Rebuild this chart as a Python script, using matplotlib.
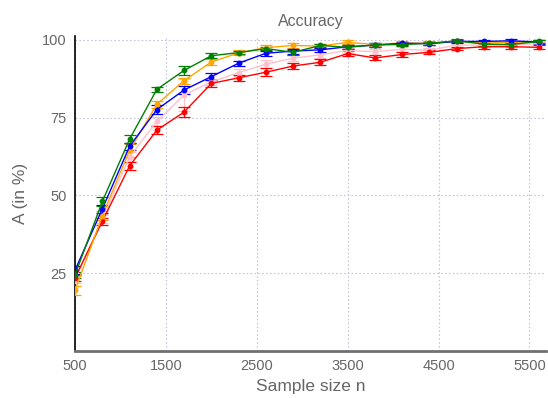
import matplotlib

matplotlib.use('Agg')
import matplotlib.pyplot as plt

plt.rcParams['font.family'] = ['Liberation Sans', 'DejaVu Sans']

# 样本量
sizes = [500, 800, 1100, 1400, 1700, 2000, 2300, 2600, 2900, 3200, 3500,
         3800, 4100, 4400, 4700, 5000, 5300, 5600]

# 各方法的准确率 (%)
acc_pink = [23.0, 42.5, 62.4, 73.8, 82.3, 86.5, 89.5, 92.2, 94.1, 95.2, 96.6,
            96.2, 97.0, 96.6, 98.4, 98.2, 98.3, 98.8]
acc_red = [23.5, 41.7, 59.5, 71.0, 76.8, 86.0, 87.8, 89.6, 91.6, 92.8, 95.6,
           94.2, 95.3, 96.0, 97.2, 97.8, 97.8, 97.6]
acc_orange = [19.5, 43.5, 64.5, 79.3, 86.9, 92.9, 95.8, 97.5, 98.2, 98.0, 99.2,
              98.5, 99.0, 98.9, 99.6, 99.0, 99.2, 99.4]
acc_blue = [26.0, 45.7, 65.8, 77.6, 83.9, 88.2, 92.5, 95.7, 96.4, 96.8, 97.8,
            98.3, 98.9, 98.8, 99.5, 99.5, 99.7, 99.3]
acc_green = [24.5, 48.1, 68.1, 84.1, 90.2, 94.9, 95.9, 97.2, 96.0, 98.2, 97.6,
             98.4, 98.5, 98.9, 99.7, 98.6, 98.5, 99.5]

# 误差
err_pink = [1.2, 1.2, 1.5, 1.5, 5.0, 1.0, 1.2, 1.2, 1.0, 1.0, 0.8,
            1.0, 0.8, 0.8, 0.6, 0.6, 0.6, 0.6]
err_red = [1.0, 1.2, 1.2, 1.2, 1.5, 1.0, 1.0, 1.2, 1.0, 1.0, 0.8,
           0.8, 0.8, 0.6, 0.6, 0.6, 0.6, 0.6]
err_orange = [1.5, 1.5, 2.0, 1.2, 1.0, 1.0, 0.8, 0.8, 0.8, 0.6, 0.6,
              0.6, 0.6, 0.6, 0.5, 0.5, 0.5, 0.5]
err_blue = [1.2, 1.2, 1.2, 1.5, 1.2, 1.0, 0.8, 0.8, 0.8, 0.6, 0.6,
            0.6, 0.5, 0.5, 0.5, 0.5, 0.5, 0.5]
err_green = [1.0, 1.5, 1.2, 0.8, 1.5, 0.8, 0.6, 0.6, 0.8, 0.6, 0.6,
             0.6, 0.5, 0.5, 0.5, 0.5, 0.5, 0.5]

x_ticks = [500, 1500, 2500, 3500, 4500, 5500]
y_ticks = [25, 50, 75, 100]

series = [
    (acc_pink, err_pink, '#ffc0cb'),
    (acc_red, err_red, '#ff0000'),
    (acc_orange, err_orange, '#ffa500'),
    (acc_blue, err_blue, '#0000ff'),
    (acc_green, err_green, '#008000'),
]

TEXT = '#666666'

fig = plt.figure(figsize=(5.48, 3.98), dpi=100)
ax = fig.add_axes([0.137, 0.118, 0.859, 0.792])

for acc, err, c in series:
    ax.errorbar(sizes, acc, yerr=err, color=c, ecolor=c, elinewidth=0.9,
                capsize=4, capthick=0.9, lw=1.0, marker='o', markersize=3.2,
                zorder=3)

ax.set_xlim(500, 5680)
ax.set_ylim(0, 101.3)
ax.set_xticks(x_ticks)
ax.set_yticks(y_ticks)
ax.grid(True, color='#c4c4dc', linestyle=(0, (1.5, 2)), linewidth=0.8)
ax.tick_params(length=0, colors=TEXT, labelsize=10.5, pad=6)

for s in ['top', 'right']:
    ax.spines[s].set_visible(False)
ax.spines['left'].set_color('black')
ax.spines['left'].set_linewidth(1.2)
ax.spines['bottom'].set_color('#707070')
ax.spines['bottom'].set_linewidth(2.0)

ax.set_title('Accuracy', color=TEXT, fontsize=11.5, pad=7)
ax.set_xlabel('Sample size n', color=TEXT, fontsize=12.5, labelpad=4)
ax.set_ylabel('A (in %)', color=TEXT, fontsize=12.5, labelpad=10)

fig.savefig('out.png', dpi=100)
